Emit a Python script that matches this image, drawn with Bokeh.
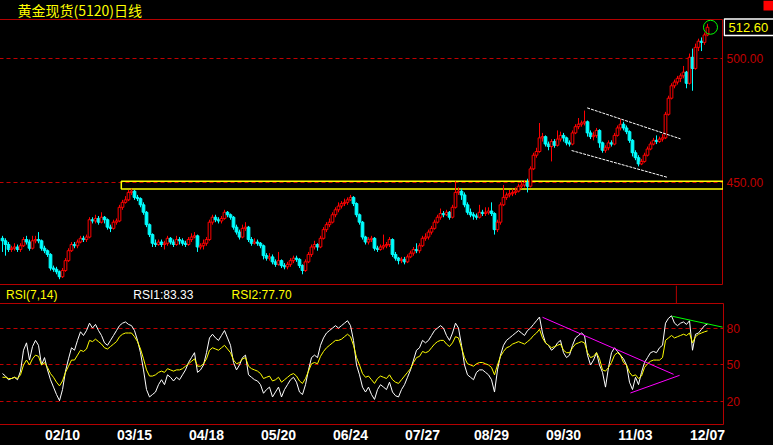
from bokeh.plotting import figure
from bokeh.layouts import column, row
from bokeh.models import Range1d, FixedTicker, Label, ColumnDataSource, Span, BoxAnnotation
from bokeh.embed import file_html
from bokeh.resources import INLINE

# ---------------- data ----------------
title_text = "黄金现货(5120)日线"

open_ = [427.5, 426.5, 425.0, 423.0, 423.5, 424.0, 423.0, 424.5, 427.0, 426.0,
         423.5, 426.5, 427.0, 426.5, 423.5, 422.5, 421.0, 415.5, 415.0, 414.0,
         412.0, 414.5, 418.5, 422.5, 425.0, 424.5, 426.0, 427.5, 427.0, 428.0,
         435.0, 434.5, 435.5, 434.0, 436.0, 435.0, 432.0, 431.5, 434.0, 434.5,
         440.0, 442.0, 443.0, 446.0, 446.5, 444.0, 443.5, 441.0, 438.0, 433.0,
         429.0, 425.5, 425.0, 426.0, 425.0, 425.5, 427.5, 426.0, 425.0, 427.0,
         426.5, 425.5, 425.0, 427.0, 428.0, 428.5, 424.0, 424.5, 425.5, 427.0,
         434.0, 436.0, 435.0, 434.5, 435.5, 438.0, 437.0, 436.0, 432.0, 430.0,
         428.0, 431.5, 432.0, 427.0, 425.5, 426.0, 425.5, 424.5, 420.5, 419.5,
         420.0, 418.0, 417.0, 418.5, 416.5, 416.0, 417.0, 418.5, 419.5, 419.0,
         416.5, 414.5, 418.0, 421.0, 424.0, 425.0, 424.0, 427.5, 431.0, 433.0,
         434.0, 437.0, 439.0, 440.5, 441.5, 442.0, 443.0, 444.0, 441.5, 437.0,
         434.0, 428.0, 426.0, 427.0, 427.5, 423.5, 423.0, 424.0, 424.5, 425.0,
         427.0, 421.0, 419.5, 418.5, 419.0, 418.0, 420.0, 421.5, 423.0, 422.5,
         424.5, 427.5, 428.0, 430.0, 431.5, 434.0, 436.0, 437.5, 437.0, 438.0,
         436.0, 440.0, 446.0, 446.5, 445.0, 441.0, 438.0, 437.0, 436.5, 436.0,
         438.0, 437.5, 438.0, 438.5, 437.5, 431.0, 434.0, 441.0, 444.0, 445.0,
         445.5, 446.0, 446.5, 448.5, 449.0, 450.0, 448.5, 455.5, 461.0, 462.5,
         468.0, 468.5, 465.5, 464.5, 466.5, 465.0, 467.5, 469.0, 468.0, 466.0,
         465.5, 470.0, 472.5, 473.5, 474.0, 474.5, 470.0, 468.5, 469.0, 471.0,
         466.0, 463.0, 464.0, 466.0, 465.5, 469.0, 472.0, 473.5, 472.0, 470.5,
         467.0, 462.0, 460.0, 457.5, 458.5, 461.0, 463.5, 465.5, 467.0, 466.5,
         467.5, 468.0, 477.5, 484.0, 489.0, 490.5, 492.0, 493.0, 494.5, 490.0,
         500.5, 496.0, 504.5, 507.0, 506.5, 509.5]

high = [428.5, 427.5, 426.0, 424.5, 425.5, 425.0, 425.5, 428.0, 428.5, 427.0,
        428.5, 428.5, 430.0, 427.0, 424.5, 423.0, 421.5, 416.5, 416.0, 414.5,
        415.5, 419.5, 423.5, 426.0, 426.0, 427.0, 428.5, 428.5, 429.0, 436.0,
        436.0, 437.0, 436.5, 438.0, 436.5, 435.5, 433.0, 435.0, 435.5, 441.0,
        443.0, 444.5, 447.0, 447.5, 447.0, 445.0, 444.0, 442.0, 438.5, 433.5,
        429.5, 427.0, 427.0, 427.0, 426.5, 428.5, 428.0, 427.0, 428.5, 428.0,
        427.5, 426.5, 428.0, 429.5, 430.0, 429.0, 425.5, 427.0, 428.0, 435.0,
        437.0, 437.0, 436.0, 436.5, 439.0, 438.5, 437.5, 436.5, 433.0, 431.0,
        433.0, 434.0, 432.5, 428.0, 427.5, 427.0, 426.0, 425.0, 421.5, 421.5,
        421.0, 419.0, 422.0, 419.0, 417.5, 418.0, 419.5, 420.5, 420.5, 419.5,
        417.0, 419.0, 422.0, 425.0, 426.5, 425.5, 428.5, 432.0, 434.0, 435.5,
        438.0, 440.0, 442.0, 442.5, 443.5, 444.0, 445.0, 444.5, 442.0, 437.5,
        434.5, 428.5, 428.0, 428.5, 428.0, 424.5, 425.0, 429.0, 426.0, 428.0,
        427.5, 422.0, 420.0, 420.0, 420.0, 421.0, 422.5, 424.0, 425.5, 425.5,
        428.5, 429.5, 431.0, 432.5, 435.0, 437.0, 439.5, 438.5, 439.0, 438.5,
        441.0, 450.5, 448.0, 447.5, 446.0, 442.0, 439.5, 438.0, 437.5, 441.0,
        439.0, 440.0, 440.0, 442.0, 438.0, 435.0, 442.0, 449.0, 446.0, 447.0,
        447.5, 448.0, 449.5, 450.5, 451.0, 451.5, 456.5, 462.0, 464.0, 474.0,
        470.0, 469.0, 466.5, 467.5, 467.5, 471.0, 470.5, 470.0, 468.5, 467.0,
        471.0, 473.5, 476.0, 475.0, 479.0, 475.0, 471.0, 470.5, 472.0, 471.5,
        466.5, 465.0, 467.0, 467.0, 470.0, 473.0, 475.5, 474.5, 473.0, 471.0,
        467.5, 463.0, 461.0, 459.5, 462.0, 464.5, 466.5, 468.0, 469.0, 468.5,
        469.5, 478.5, 485.0, 490.0, 491.5, 493.0, 494.0, 497.0, 495.0, 502.0,
        504.0, 506.0, 508.0, 508.5, 510.5, 514.0]

low = [422.0, 420.5, 422.0, 422.0, 422.5, 422.0, 422.0, 424.0, 425.0, 422.5,
       423.0, 425.5, 425.5, 422.5, 421.5, 420.0, 414.5, 414.0, 413.0, 411.0,
       411.5, 414.0, 418.0, 422.0, 423.5, 423.5, 425.5, 426.0, 426.0, 427.5,
       433.5, 433.5, 433.0, 433.5, 433.5, 431.0, 430.0, 431.0, 433.0, 434.0,
       439.0, 441.5, 442.5, 445.0, 443.0, 442.5, 440.0, 437.0, 432.0, 428.0,
       424.0, 424.0, 424.5, 424.0, 423.0, 424.5, 425.0, 424.0, 424.5, 425.0,
       424.5, 424.0, 424.5, 426.0, 427.5, 422.0, 423.0, 423.0, 424.5, 426.5,
       433.0, 434.0, 433.5, 433.5, 435.0, 436.0, 435.0, 431.0, 429.0, 427.0,
       427.5, 430.5, 426.0, 424.5, 425.0, 424.5, 423.5, 419.0, 418.5, 418.5,
       417.0, 416.0, 416.5, 415.5, 415.0, 415.0, 416.0, 417.5, 418.0, 415.5,
       413.0, 414.0, 417.5, 420.0, 423.0, 422.5, 423.5, 427.0, 430.0, 432.0,
       433.5, 436.0, 438.0, 439.5, 440.5, 441.0, 442.5, 440.5, 436.0, 433.0,
       427.0, 425.0, 425.0, 426.0, 422.5, 422.0, 422.5, 423.0, 423.5, 424.0,
       420.0, 418.5, 417.0, 417.5, 417.0, 417.5, 419.5, 420.5, 421.5, 421.5,
       424.0, 426.5, 427.0, 429.0, 431.0, 433.5, 435.0, 436.0, 436.5, 435.0,
       435.5, 439.5, 445.0, 443.0, 440.0, 437.0, 436.0, 435.0, 435.0, 435.5,
       436.5, 436.5, 437.0, 436.5, 429.0, 430.0, 433.0, 440.5, 443.0, 444.0,
       444.5, 445.0, 446.0, 447.5, 448.0, 446.0, 448.0, 455.0, 460.0, 462.0,
       466.5, 464.5, 463.0, 458.5, 464.0, 464.5, 466.5, 466.5, 465.0, 464.5,
       465.0, 469.5, 471.5, 472.5, 473.0, 468.5, 467.5, 467.0, 468.0, 464.0,
       462.0, 462.0, 463.0, 464.5, 465.0, 468.5, 471.0, 471.0, 469.5, 466.0,
       460.5, 459.0, 456.5, 457.0, 458.0, 460.5, 463.0, 465.0, 465.5, 466.0,
       466.5, 467.5, 477.0, 483.5, 488.0, 489.5, 490.5, 492.0, 488.0, 489.5,
       487.0, 495.5, 503.0, 503.0, 505.5, 509.0]

close = [426.5, 425.0, 423.0, 423.5, 424.0, 423.0, 424.5, 427.0, 426.0, 423.5,
         426.5, 427.0, 426.5, 423.5, 422.5, 421.0, 415.5, 415.0, 414.0, 412.0,
         414.5, 418.5, 422.5, 425.0, 424.5, 426.0, 427.5, 427.0, 428.0, 435.0,
         434.5, 435.5, 434.0, 436.0, 435.0, 432.0, 431.5, 434.0, 434.5, 440.0,
         442.0, 443.0, 446.0, 446.5, 444.0, 443.5, 441.0, 438.0, 433.0, 429.0,
         425.5, 425.0, 426.0, 425.0, 425.5, 427.5, 426.0, 425.0, 427.0, 426.5,
         425.5, 425.0, 427.0, 428.0, 428.5, 424.0, 424.5, 425.5, 427.0, 434.0,
         436.0, 435.0, 434.5, 435.5, 438.0, 437.0, 436.0, 432.0, 430.0, 428.0,
         431.5, 432.0, 427.0, 425.5, 426.0, 425.5, 424.5, 420.5, 419.5, 420.0,
         418.0, 417.0, 418.5, 416.5, 416.0, 417.0, 418.5, 419.5, 419.0, 416.5,
         414.5, 418.0, 421.0, 424.0, 425.0, 424.0, 427.5, 431.0, 433.0, 434.0,
         437.0, 439.0, 440.5, 441.5, 442.0, 443.0, 444.0, 441.5, 437.0, 434.0,
         428.0, 426.0, 427.0, 427.5, 423.5, 423.0, 424.0, 424.5, 425.0, 427.0,
         421.0, 419.5, 418.5, 419.0, 418.0, 420.0, 421.5, 423.0, 422.5, 424.5,
         427.5, 428.0, 430.0, 431.5, 434.0, 436.0, 437.5, 437.0, 438.0, 436.0,
         440.0, 446.0, 446.5, 445.0, 441.0, 438.0, 437.0, 436.5, 436.0, 438.0,
         437.5, 438.0, 438.5, 437.5, 431.0, 434.0, 441.0, 444.0, 445.0, 445.5,
         446.0, 446.5, 448.5, 449.0, 450.0, 448.5, 455.5, 461.0, 462.5, 468.0,
         468.5, 465.5, 464.5, 466.5, 465.0, 467.5, 469.0, 468.0, 466.0, 465.5,
         470.0, 472.5, 473.5, 474.0, 474.5, 470.0, 468.5, 469.0, 471.0, 466.0,
         463.0, 464.0, 466.0, 465.5, 469.0, 472.0, 473.5, 472.0, 470.5, 467.0,
         462.0, 460.0, 457.5, 458.5, 461.0, 463.5, 465.5, 467.0, 466.5, 467.5,
         468.0, 477.5, 484.0, 489.0, 490.5, 492.0, 493.0, 494.5, 490.0, 500.5,
         496.0, 504.5, 507.0, 506.5, 509.5, 512.6]

rsi1 = [43, 41, 38, 39, 40, 38, 45, 62, 68, 54,
        65, 70, 66, 50, 56, 46, 38, 32, 26, 21,
        30, 45, 55, 64, 62, 70, 77, 74, 78, 84,
        80, 83, 78, 74, 68, 66, 70, 74, 78, 82,
        84, 85, 83, 82, 78, 70, 60, 46, 30, 24,
        26, 28, 34, 38, 34, 42, 40, 37, 40, 38,
        42, 46, 52, 56, 60, 44, 46, 50, 60, 72,
        75, 72, 70, 74, 78, 72, 66, 52, 46, 50,
        56, 58, 42, 40, 38, 37, 34, 27, 30, 32,
        24, 28, 32, 24, 30, 34, 38, 40, 36, 28,
        26, 34, 46, 56, 58, 56, 66, 72, 76, 78,
        80, 82, 80, 82, 84, 86, 82, 70, 50, 42,
        32, 28, 32, 26, 22, 30, 34, 32, 30, 36,
        28, 25, 24, 30, 34, 40, 46, 54, 62, 64,
        70, 68, 70, 74, 78, 80, 82, 80, 74, 70,
        76, 84, 80, 66, 50, 42, 40, 38, 44, 46,
        46, 44, 42, 38, 28, 46, 58, 66, 70, 72,
        74, 76, 78, 76, 74, 78, 80, 83, 86, 89,
        76, 68, 66, 62, 64, 68, 70, 60, 56, 58,
        66, 72, 74, 76, 74, 58, 50, 54, 60, 50,
        44, 32, 48, 60, 64, 61, 58, 55, 50, 36,
        30, 40, 34, 44, 52, 56, 60, 61, 60, 64,
        66, 84, 88, 90, 84, 82, 84, 85, 83, 86,
        62, 75, 76, 79, 82, 83.33]

rsi2 = [40, 40, 39, 39, 40, 39, 42, 50, 54, 50,
        55, 58, 57, 50, 52, 48, 43, 40, 36, 33,
        37, 44, 49, 54, 54, 58, 62, 61, 63, 70,
        69, 71, 69, 67, 64, 63, 65, 67, 69, 73,
        75, 76, 76, 76, 73, 69, 63, 55, 46, 41,
        41, 42, 44, 45, 44, 47, 46, 45, 46, 46,
        47, 49, 51, 53, 55, 49, 49, 51, 55, 62,
        64, 63, 62, 64, 66, 63, 60, 54, 51, 52,
        55, 56, 49, 47, 46, 45, 43, 39, 40, 41,
        37, 38, 40, 36, 38, 40, 42, 43, 41, 37,
        35, 39, 45, 51, 52, 51, 57, 61, 64, 66,
        68, 70, 70, 71, 73, 75, 73, 66, 56, 50,
        43, 40, 41, 38, 35, 39, 41, 40, 39, 42,
        38, 36, 35, 38, 41, 44, 47, 52, 56, 57,
        61, 60, 61, 64, 67, 69, 70, 70, 67, 65,
        68, 73, 72, 64, 56, 51, 50, 49, 51, 52,
        52, 51, 50, 48, 42, 50, 57, 61, 64, 65,
        67, 68, 69, 68, 67, 69, 71, 74, 76, 79,
        72, 68, 66, 64, 65, 66, 67, 62, 60, 60,
        64, 67, 68, 69, 68, 60, 56, 57, 60, 55,
        46, 45, 48, 52, 58, 60, 58, 52, 50, 44,
        41, 42, 39, 41, 48, 51, 53, 54, 54, 54,
        56, 70, 72, 74, 72, 73, 74, 75, 74, 76,
        68, 73, 75, 76, 77, 77.70]

tick_index = [20, 44, 68, 92, 116, 140, 163, 187, 211, 235]
tick_labels = ["02/10", "03/15", "04/18", "05/20", "06/24",
               "07/27", "08/29", "09/30", "11/03", "12/07"]
price_levels = [450, 500]
rsi_levels = [20, 50, 80]

# drawn studies (candle index, value)
zone_start, zone_end = 39.6, 240.2
zone_low, zone_high = 447.4, 450.5
channel_upper_x, channel_upper_y = [194.9, 226.0], [480.1, 467.6]
channel_lower_x, channel_lower_y = [189.7, 221.6], [462.9, 452.1]
rsi_down_x, rsi_down_y = [180.0, 223.7], [88.8, 42.4]
rsi_up_x, rsi_up_y = [209.3, 225.7], [27.2, 41.6]
rsi_top_x, rsi_top_y = [223.3, 240.0], [89.6, 80.8]

sizes = [len(open_), len(high), len(low), len(close), len(rsi1), len(rsi2)]
if len(set(sizes)) != 1:
    raise SystemExit("length mismatch: %s" % sizes)

# ---------------- styling ----------------
BG = "#000000"
FRAME = "#b40000"
GRID = "#c00000"
UP = "#ff0000"
DOWN = "#00ffff"
YEL = "#ffff00"
FONT = "Liberation Sans"

PRICE_LO, PRICE_HI = 408.47, 515.73      # price frame (y 19..285)
PX_PER_UNIT = 2.48
PRICE_TOP = PRICE_HI + 19 / PX_PER_UNIT   # price value at the very top of the page
RSI_LO, RSI_HI = 1.6, 100.0

n = len(close)
idx = list(range(n))
is_up = [c >= o for o, c in zip(open_, close)]
src = ColumnDataSource(dict(
    x=idx, h=high, l=low,
    top=[max(o, c) for o, c in zip(open_, close)],
    bot=[min(o, c) for o, c in zip(open_, close)],
    color=[UP if u else DOWN for u in is_up],
    fill=[BG if u else DOWN for u in is_up],
))

xr = Range1d(-0.667, 240.333)


def base(w, h, xrng, yrng, **kw):
    opts = dict(width=w, height=h, x_range=xrng, y_range=yrng,
                output_backend="svg", toolbar_location=None,
                x_axis_location=None, y_axis_location=None,
                min_border_left=0, min_border_right=0, min_border_top=0, min_border_bottom=0,
                background_fill_color=BG, border_fill_color=BG, outline_line_color=None)
    opts.update(kw)
    return figure(**opts)


# --- title strip ---
t = base(724, 19, Range1d(0, 724), Range1d(0, 19))
t.xgrid.visible = False
t.ygrid.visible = False
t.add_layout(Label(x=18, y=9.5, text=title_text, text_color=YEL,
                   text_font="Noto Sans CJK SC", text_font_size="14px",
                   text_baseline="middle", text_align="left"))

# --- price panel ---
p = base(724, 266, Range1d(-1.0, 240.333), Range1d(PRICE_LO, PRICE_HI),
         outline_line_color=FRAME)
p.xgrid.visible = False
p.ygrid.ticker = FixedTicker(ticks=price_levels)
p.ygrid.grid_line_color = GRID
p.ygrid.grid_line_dash = "4 3"

p.quad(left=[zone_start], right=[zone_end], bottom=[zone_low], top=[zone_high],
       fill_color=None, line_color=YEL, line_width=1.5)
p.segment(x0="x", y0="h", x1="x", y1="l", line_color="color", line_width=1, source=src)
p.vbar(x="x", width=0.9, top="top", bottom="bot", fill_color="fill",
       line_color="color", line_width=1, source=src)
p.line(channel_upper_x, channel_upper_y, line_color="white", line_width=1, line_dash="3 1")
p.line(channel_lower_x, channel_lower_y, line_color="white", line_width=1, line_dash="3 1")
p.scatter([n], [close[-1]], marker="circle", size=14, fill_color=None,
          line_color="#00ff00", line_width=1)

# --- price scale strip on the right ---
r = base(52, 285, Range1d(0, 52), Range1d(PRICE_LO, PRICE_TOP))
r.xgrid.visible = False
r.ygrid.visible = False
r.text(x=[3] * len(price_levels), y=price_levels,
       text=["%.2f" % v for v in price_levels], text_color=GRID,
       text_font={"value": FONT}, text_font_size="12px",
       text_baseline="middle", text_align="left")
half_box = 8.3 / PX_PER_UNIT
r.add_layout(BoxAnnotation(left=0.8, right=60, top=close[-1] + half_box,
                           bottom=close[-1] - half_box, fill_color=BG, fill_alpha=1.0,
                           line_color="white", line_width=1.5, line_alpha=1.0))
r.add_layout(Label(x=5, y=close[-1], text="%.2f" % close[-1], text_color=YEL,
                   text_font=FONT, text_font_size="13px", text_baseline="middle",
                   text_align="left"))
r.add_layout(BoxAnnotation(left=40, right=50, top=PRICE_TOP,
                           bottom=PRICE_TOP - 10 / PX_PER_UNIT,
                           fill_color="#ff0000", fill_alpha=1.0, line_color=None))

# --- RSI caption strip ---
s = base(776, 18, Range1d(-1, 775), Range1d(0, 18))
s.xgrid.visible = False
s.ygrid.visible = False
s.add_layout(Span(location=722.5, dimension="height", line_color=FRAME, line_width=1))
for xpos, txt, col in [(6, "RSI(7,14)", YEL),
                       (142, "RSI1:%.2f" % rsi1[-1], "white"),
                       (247, "RSI2:%.2f" % rsi2[-1], YEL)]:
    s.add_layout(Label(x=xpos, y=9, text=txt, text_color=col, text_font=FONT,
                       text_font_size="12px", text_baseline="middle", text_align="left"))

# --- RSI panel ---
q = base(774, 142, Range1d(-1.0, 240.333), Range1d(RSI_LO, RSI_HI), x_axis_location="below",
         y_axis_location="right", min_border_right=50, min_border_bottom=19,
         outline_line_color=FRAME)
q.xgrid.visible = False
q.ygrid.ticker = FixedTicker(ticks=rsi_levels)
q.ygrid.grid_line_color = GRID
q.ygrid.grid_line_dash = "4 3"
q.yaxis.ticker = FixedTicker(ticks=rsi_levels)
q.yaxis.axis_line_color = None
q.yaxis.major_tick_line_color = None
q.yaxis.minor_tick_line_color = None
q.yaxis.major_tick_out = 0
q.yaxis.major_tick_in = 0
q.yaxis.major_label_standoff = 3
q.yaxis.major_label_text_color = GRID
q.yaxis.major_label_text_font = FONT
q.yaxis.major_label_text_font_size = "12px"
q.xaxis.ticker = FixedTicker(ticks=tick_index)
q.xaxis.major_label_overrides = {i: lab for i, lab in zip(tick_index, tick_labels)}
q.xaxis.axis_line_color = None
q.xaxis.major_tick_line_color = None
q.xaxis.minor_tick_line_color = None
q.xaxis.major_tick_out = 0
q.xaxis.major_tick_in = 0
q.xaxis.major_label_standoff = 2
q.xaxis.major_label_text_color = "white"
q.xaxis.major_label_text_font = FONT
q.xaxis.major_label_text_font_style = "bold"
q.xaxis.major_label_text_font_size = "14px"

q.line(idx, rsi1, line_color="white", line_width=1)
q.line(idx, rsi2, line_color=YEL, line_width=1)
q.line(rsi_down_x, rsi_down_y, line_color="#ff00ff", line_width=1)
q.line(rsi_up_x, rsi_up_y, line_color="#ff00ff", line_width=1)
q.line(rsi_top_x, rsi_top_y, line_color="#00ff00", line_width=1)

layout = column(row(column(t, p), r), s, q)
html = file_html(layout, INLINE, title=title_text)
html = html.replace("</head>",
                    "<style>html,body{padding:0;background:#000;overflow:hidden;}"
                    "body{margin:0 0 0 -1px;}</style></head>", 1)
open("out.html", "w").write(html)
